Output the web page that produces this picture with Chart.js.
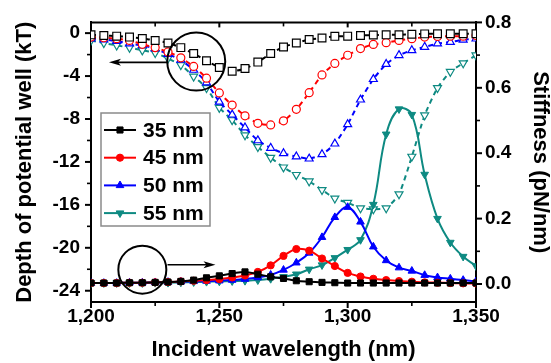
<!DOCTYPE html>
<html><head><meta charset="utf-8">
<script src="https://cdn.jsdelivr.net/npm/chart.js@4.4.1/dist/chart.umd.min.js"></script>
<style>html,body{margin:0;padding:0;background:#fff}#wrap{width:551px;height:363px}</style>
</head><body><div id="wrap"><canvas id="c" width="551" height="363"></canvas></div>
<script>
// ---------- data ----------
const wavelengths = [1200,1205,1210,1215,1220,1225,1230,1235,1240,1245,1250,1255,1260,1265,1270,1275,1280,1285,1290,1295,1300,1305,1310,1315,1320,1325,1330,1335,1340,1345,1350];
const sizeLabels = ['35 nm','45 nm','50 nm','55 nm'];
const colors = ['#000000','#ff0000','#0000ff','#0e8a82'];

const depth35 = [-0.16,-0.22,-0.28,-0.37,-0.5,-0.68,-0.92,-1.35,-1.9,-2.57,-3.2,-3.55,-3.3,-2.7,-1.9,-1.29,-0.92,-0.6,-0.45,-0.3,-0.28,-0.22,-0.18,-0.16,-0.15,-0.1,-0.07,-0.05,-0.05,-0.05,-0.05];
const depth45 = [-0.37,-0.43,-0.52,-0.68,-1.04,-1.35,-1.75,-2.3,-3.1,-4.2,-5.57,-6.7,-7.7,-8.4,-8.55,-8.17,-7.1,-5.55,-3.89,-2.82,-2.06,-1.44,-1.05,-0.89,-0.68,-0.52,-0.37,-0.31,-0.28,-0.28,-0.22];
const depth50 = [-0.52,-0.6,-0.74,-0.98,-1.14,-1.44,-1.96,-2.5,-3.43,-4.6,-6.4,-7.6,-8.8,-10.0,-10.7,-11.2,-11.5,-11.7,-11.3,-10.3,-8.5,-6.2,-4.29,-2.88,-2.06,-1.6,-1.29,-0.98,-0.83,-0.62,-0.52];
const depth55 = [-0.68,-0.92,-1.14,-1.35,-1.6,-1.84,-2.36,-2.97,-4.04,-5.1,-6.95,-8.1,-9.5,-10.6,-11.6,-12.5,-13.2,-13.8,-14.6,-15.4,-15.8,-16.3,-16.4,-16.3,-15.0,-11.5,-7.65,-5.1,-3.6,-2.8,-2.06];

const stiff35 = [0.003,0.003,0.003,0.004,0.004,0.005,0.006,0.008,0.012,0.019,0.025,0.032,0.037,0.03,0.022,0.017,0.01,0.007,0.005,0.004,0.003,0.003,0.003,0.003,0.003,0.003,0.003,0.003,0.003,0.003,0.003];
const stiff45 = [0.003,0.003,0.003,0.004,0.004,0.005,0.006,0.008,0.01,0.012,0.015,0.02,0.026,0.037,0.057,0.086,0.107,0.102,0.078,0.055,0.034,0.023,0.016,0.012,0.009,0.007,0.005,0.004,0.003,0.002,0.002];
const stiff50 = [0.003,0.003,0.003,0.004,0.004,0.005,0.006,0.007,0.008,0.009,0.01,0.012,0.015,0.02,0.028,0.043,0.065,0.095,0.143,0.204,0.235,0.19,0.114,0.072,0.05,0.04,0.027,0.02,0.016,0.012,0.008];
const stiff55 = [0.003,0.003,0.003,0.003,0.003,0.004,0.004,0.005,0.006,0.007,0.008,0.009,0.01,0.012,0.016,0.022,0.03,0.045,0.058,0.08,0.105,0.135,0.243,0.458,0.535,0.518,0.335,0.2,0.127,0.084,0.055];

const xTicks = [1200,1250,1300,1350];
const xMinorTicks = [1225,1275,1325];
const depthTicks = [-24,-20,-16,-12,-8,-4,0];
const depthMinorTicks = [-22,-18,-14,-10,-6,-2];
const stiffTicks = [0,0.2,0.4,0.6,0.8];
const stiffMinorTicks = [0.1,0.3,0.5,0.7];

const depthSeries = [depth35, depth45, depth50, depth55];
const stiffSeries = [stiff35, stiff45, stiff50, stiff55];
const pointStyles = ['rect','circle','triangle','triangle'];
const pointRotations = [0,0,0,180];
const openRadii = [5.5,4,4.6,4.6];
const filledRadii = [4.3,3.6,4.4,4.4];

const FONT = "'Liberation Sans', Arial, sans-serif";

const toPts = arr => arr.map((v,i)=>({x:wavelengths[i], y:v}));

const datasets = [];
stiffSeries.forEach((s,i)=>{
  datasets.push({
    label: sizeLabels[i], data: toPts(s), yAxisID:'yR',
    borderColor: colors[i], backgroundColor: colors[i],
    borderWidth: 2, tension: 0.4,
    pointStyle: pointStyles[i], pointRotation: pointRotations[i],
    pointRadius: filledRadii[i], pointBackgroundColor: colors[i], pointBorderColor: colors[i], pointBorderWidth: 1,
    kind:'stiff'
  });
});
depthSeries.forEach((s,i)=>{
  datasets.push({
    label: sizeLabels[i] + ' depth', data: toPts(s), yAxisID:'yL',
    borderColor: colors[i], backgroundColor: '#ffffff',
    borderWidth: 2, borderDash:[5,4], tension: 0.2,
    pointStyle: pointStyles[i], pointRotation: pointRotations[i],
    pointRadius: openRadii[i], pointBackgroundColor: '#ffffff', pointBorderColor: colors[i], pointBorderWidth: 1.2,
    kind:'depth'
  });
});

// annotation (circles + arrows) expressed in axis values
const annot = {
  upper: {cx:1241, cy:-2.65, r:29, axis:'yL', arrowFrom:1230, arrowTo:1207, arrowY:-2.72},
  lower: {cx:1220, cy:0.044, r:24, axis:'yR', arrowFrom:1229.8, arrowTo:1248.5, arrowY:0.059}
};

const decor = {
  id:'decor',
  afterDatasetsDraw(chart){
    const ctx = chart.ctx, ca = chart.chartArea, sx = chart.scales.x;
    ctx.save();
    Object.values(annot).forEach(a=>{
      const sy = chart.scales[a.axis];
      const cx = sx.getPixelForValue(a.cx), cy = sy.getPixelForValue(a.cy);
      ctx.strokeStyle='#000'; ctx.lineWidth=2;
      ctx.beginPath(); ctx.arc(cx,cy,a.r,0,Math.PI*2); ctx.stroke();
      const x1 = sx.getPixelForValue(a.arrowFrom), x2 = sx.getPixelForValue(a.arrowTo), y = sy.getPixelForValue(a.arrowY);
      const dir = Math.sign(x2-x1);
      ctx.lineWidth=1.6;
      ctx.beginPath(); ctx.moveTo(x1,y); ctx.lineTo(x2-dir*8,y); ctx.stroke();
      ctx.fillStyle='#000';
      ctx.beginPath(); ctx.moveTo(x2,y); ctx.lineTo(x2-dir*12,y-3.5); ctx.lineTo(x2-dir*9,y); ctx.lineTo(x2-dir*12,y+3.5); ctx.closePath(); ctx.fill();
    });
    const lx=101, ly=113, lw=109, lh=113;
    ctx.fillStyle='#fff'; ctx.fillRect(lx,ly,lw,lh);
    ctx.strokeStyle='#8a8a8a'; ctx.lineWidth=1.5; ctx.strokeRect(lx,ly,lw,lh);
    ctx.font = "bold 21px " + FONT; ctx.textBaseline='middle'; ctx.textAlign='left';
    chart.data.datasets.filter(d=>d.kind==='stiff').forEach((d,i)=>{
      const yy = ly + 17 + i*27.7;
      ctx.strokeStyle=d.borderColor; ctx.lineWidth=2; ctx.setLineDash([]);
      ctx.beginPath(); ctx.moveTo(104,yy); ctx.lineTo(136,yy); ctx.stroke();
      ctx.fillStyle=d.pointBackgroundColor; ctx.strokeStyle=d.pointBorderColor; ctx.lineWidth=1;
      Chart.helpers.drawPoint(ctx,{pointStyle:d.pointStyle, rotation:d.pointRotation, radius:d.pointRadius, borderWidth:1},120,yy);
      ctx.fillStyle='#000';
      ctx.fillText(d.label, 143, yy+1);
    });
    ctx.restore();
  },
  afterDraw(chart){
    const ctx = chart.ctx, ca = chart.chartArea;
    const sx = chart.scales.x, yl = chart.scales.yL, yr = chart.scales.yR;
    ctx.save();
    ctx.strokeStyle='#000';
    const line=(x1,y1,x2,y2,w)=>{ctx.lineWidth=w;ctx.beginPath();ctx.moveTo(x1,y1);ctx.lineTo(x2,y2);ctx.stroke();};
    line(ca.left-1, ca.top, ca.right+1, ca.top, 2);
    xTicks.forEach(v=>{const p=sx.getPixelForValue(v); line(p,ca.bottom,p,ca.bottom+6,2); line(p,ca.top,p,ca.top+5,2);});
    xMinorTicks.forEach(v=>{const p=sx.getPixelForValue(v); line(p,ca.bottom,p,ca.bottom+4,1.6); line(p,ca.top,p,ca.top+4,1.6);});
    depthTicks.forEach(v=>{const p=yl.getPixelForValue(v); line(ca.left-6,p,ca.left,p,2);});
    depthMinorTicks.forEach(v=>{const p=yl.getPixelForValue(v); line(ca.left-4,p,ca.left,p,1.6);});
    stiffTicks.forEach(v=>{const p=yr.getPixelForValue(v); line(ca.right,p,ca.right+6,p,2);});
    stiffMinorTicks.forEach(v=>{const p=yr.getPixelForValue(v); line(ca.right,p,ca.right+4,p,1.6);});
    ctx.restore();
  }
};

const tickFont = {family: FONT, size: 19, weight:'bold'};
const titleFont = {family: FONT, size: 22, weight:'bold', lineHeight: 1};

new Chart(document.getElementById('c'), {
  type:'line',
  data:{datasets},
  options:{
    responsive:false, animation:false, devicePixelRatio:1,
    layout:{padding:{top:18,left:0,right:0,bottom:0}},
    plugins:{legend:{display:false}, tooltip:{enabled:false}},
    scales:{
      x:{
        type:'linear', min:1200, max:1350,
        afterBuildTicks: s=>{ s.ticks = xTicks.map(v=>({value:v})); },
        afterFit: s=>{ s.height = 61; },
        ticks:{color:'#000', font:tickFont, padding:3, maxRotation:0, callback:v=>v.toLocaleString('en-US')},
        grid:{display:false, drawTicks:false},
        border:{display:true, color:'#000', width:2},
        title:{display:true, text:'Incident wavelength (nm)', color:'#000', font:titleFont, padding:{top:0,bottom:2}}
      },
      yL:{
        type:'linear', position:'left', min:-25.05, max:1.0,
        afterBuildTicks: s=>{ s.ticks = depthTicks.map(v=>({value:v})); },
        afterFit: s=>{ s.width = 91; },
        ticks:{color:'#000', font:tickFont, padding:11, callback:v=>String(v)},
        grid:{display:false, drawTicks:false},
        border:{display:true, color:'#000', width:2},
        title:{display:true, text:'Depth of potential well (kT)', color:'#000', font:titleFont, padding:{top:14,bottom:0}}
      },
      yR:{
        type:'linear', position:'right', min:-0.055, max:0.8,
        afterBuildTicks: s=>{ s.ticks = stiffTicks.map(v=>({value:v})); },
        afterFit: s=>{ s.width = 75; },
        ticks:{color:'#000', font:tickFont, padding:9, callback:v=>Number(v).toFixed(1)},
        grid:{display:false, drawTicks:false},
        border:{display:true, color:'#000', width:2},
        title:{display:true, text:'Stiffness (pN/nm)', color:'#000', font:titleFont, padding:{top:0,bottom:0}}
      }
    }
  },
  plugins:[decor]
});
</script></body></html>
